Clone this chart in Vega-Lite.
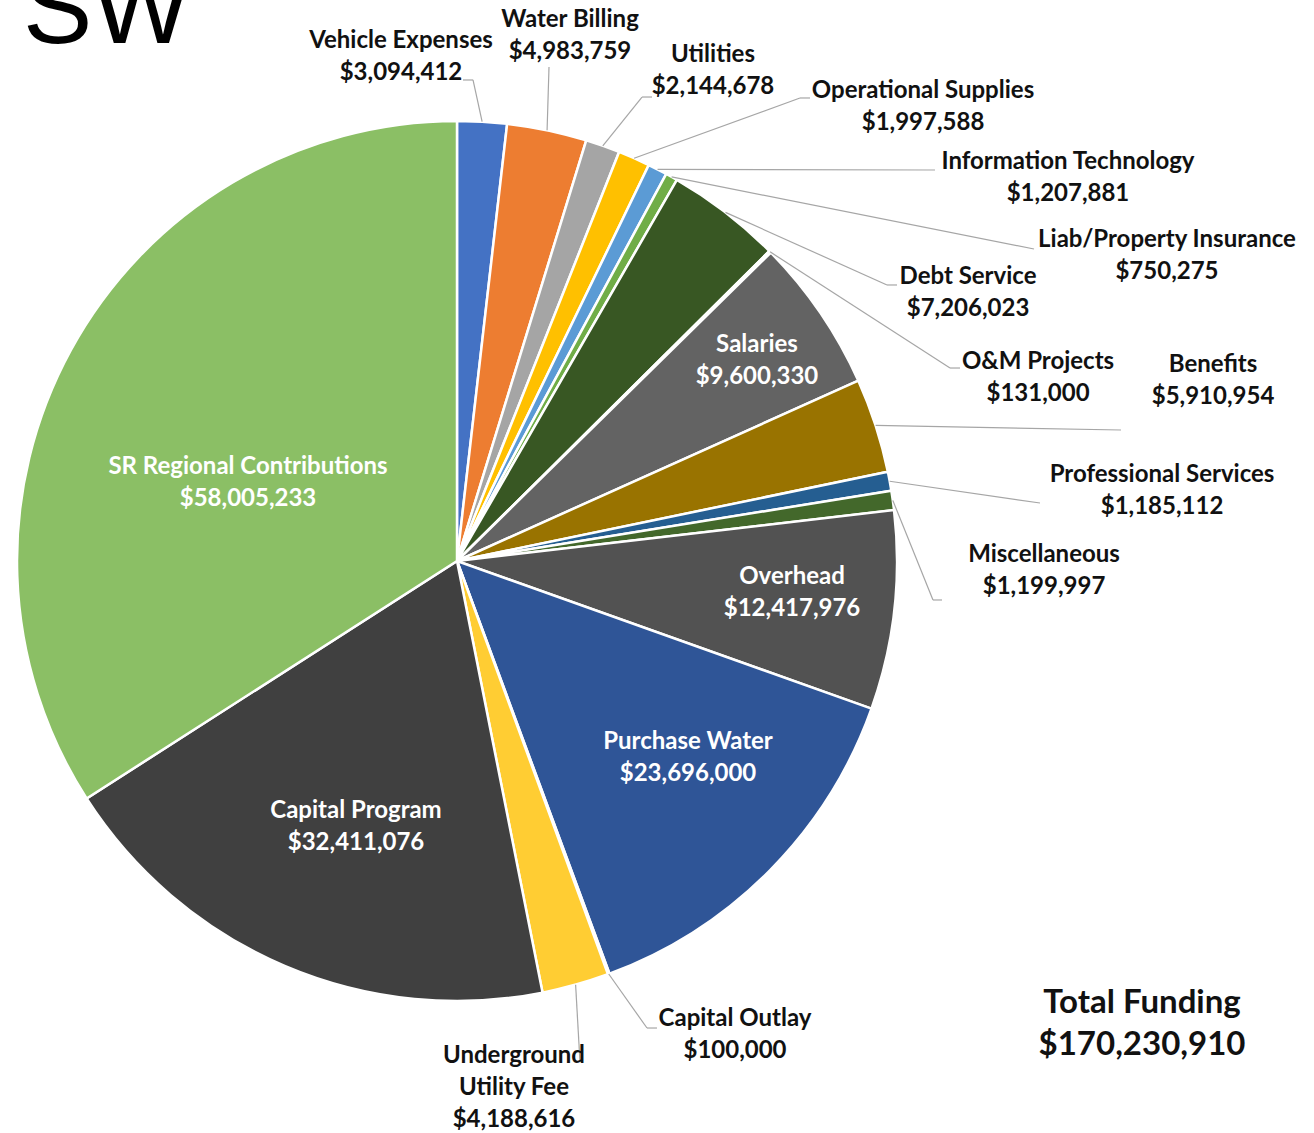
{
  "$schema": "https://vega.github.io/schema/vega-lite/v6.json",
  "width": 914,
  "height": 1122,
  "autosize": {"type": "none"},
  "padding": {"left": 0, "top": 0, "right": 400, "bottom": 11},
  "background": "white",
  "config": {"view": {"stroke": null}},
  "data": {
    "values": [
      {"category": "Vehicle Expenses", "amount": 3094412},
      {"category": "Water Billing", "amount": 4983759},
      {"category": "Utilities", "amount": 2144678},
      {"category": "Operational Supplies", "amount": 1997588},
      {"category": "Information Technology", "amount": 1207881},
      {"category": "Liab/Property Insurance", "amount": 750275},
      {"category": "Debt Service", "amount": 7206023},
      {"category": "O&M Projects", "amount": 131000},
      {"category": "Salaries", "amount": 9600330},
      {"category": "Benefits", "amount": 5910954},
      {"category": "Professional Services", "amount": 1185112},
      {"category": "Miscellaneous", "amount": 1199997},
      {"category": "Overhead", "amount": 12417976},
      {"category": "Purchase Water", "amount": 23696000},
      {"category": "Capital Outlay", "amount": 100000},
      {"category": "Underground Utility Fee", "amount": 4188616},
      {"category": "Capital Program", "amount": 32411076},
      {"category": "SR Regional Contributions", "amount": 58005233}
    ]
  },
  "transform": [
    {"window": [{"op": "row_number", "as": "idx"}]},
    {"joinaggregate": [{"op": "sum", "field": "amount", "as": "total"}]},
    {"window": [{"op": "sum", "field": "amount", "as": "cum"}], "sort": [{"field": "idx", "order": "ascending"}], "frame": [null, 0]},
    {"calculate": "2 * PI * (datum.cum - datum.amount / 2) / datum.total", "as": "mid"},
    {"calculate": "sin(datum.mid)", "as": "sx"},
    {"calculate": "cos(datum.mid)", "as": "sy"}
  ],
  "layer": [
    {
      "mark": {"type": "arc", "outerRadius": 440, "stroke": "white", "strokeWidth": 2.5},
      "encoding": {
        "theta": {"field": "amount", "type": "quantitative", "stack": true},
        "order": {"field": "idx", "type": "quantitative"},
        "color": {
          "field": "category",
          "type": "nominal",
          "legend": null,
          "scale": {
            "domain": ["Vehicle Expenses", "Water Billing", "Utilities", "Operational Supplies", "Information Technology", "Liab/Property Insurance", "Debt Service", "O&M Projects", "Salaries", "Benefits", "Professional Services", "Miscellaneous", "Overhead", "Purchase Water", "Capital Outlay", "Underground Utility Fee", "Capital Program", "SR Regional Contributions"],
            "range": ["#4472C4", "#ED7D31", "#A5A5A5", "#FFC000", "#5B9BD5", "#70AD47", "#385723", "#9E480E", "#636363", "#997300", "#255E91", "#43682B", "#525252", "#2F5597", "#B7B7B7", "#FFCD33", "#404040", "#8BBF65"]
          }
        }
      }
    },
    {
      "transform": [
        {"calculate": "{'Vehicle Expenses':[0.0364,1.0932,0.0136,1.0932],'Water Billing':[0.2091,1.1227,0.2091,1.1227],'Utilities':[0.4205,1.0545,0.4432,1.0545],'Operational Supplies':[0.7795,1.0523,0.8023,1.0523],'Information Technology':[1.0864,0.8886,1.0864,0.8886],'Liab/Property Insurance':[1.3114,0.7091,1.3114,0.7091],'Debt Service':[0.9773,0.6273,1.0,0.6273],'O&M Projects':[1.1205,0.4386,1.1432,0.4386],'Benefits':[1.5091,0.2977,1.5091,0.2977],'Professional Services':[1.325,0.1318,1.325,0.1318],'Miscellaneous':[1.0818,-0.0886,1.1023,-0.0886],'Capital Outlay':[0.4318,-1.0614,0.4545,-1.0614],'Underground Utility Fee':[0.2795,-1.1386,0.2795,-1.1386]}[datum.category]", "as": "lead"},
        {"filter": "isValid(datum.lead)"},
        {"calculate": "datum.lead[0]", "as": "eu"},
        {"calculate": "datum.lead[1]", "as": "ev"}
      ],
      "mark": {"type": "rule", "color": "#A6A6A6", "strokeWidth": 1.2},
      "encoding": {
        "x": {"field": "sx", "type": "quantitative", "scale": {"domain": [-1.038636, 1.038636], "nice": false, "zero": false}, "axis": null},
        "y": {"field": "sy", "type": "quantitative", "scale": {"domain": [-1.275, 1.275], "nice": false, "zero": false}, "axis": null},
        "x2": {"field": "eu"},
        "y2": {"field": "ev"}
      }
    },
    {
      "transform": [
        {"calculate": "{'Vehicle Expenses':[0.0364,1.0932,0.0136,1.0932],'Water Billing':[0.2091,1.1227,0.2091,1.1227],'Utilities':[0.4205,1.0545,0.4432,1.0545],'Operational Supplies':[0.7795,1.0523,0.8023,1.0523],'Information Technology':[1.0864,0.8886,1.0864,0.8886],'Liab/Property Insurance':[1.3114,0.7091,1.3114,0.7091],'Debt Service':[0.9773,0.6273,1.0,0.6273],'O&M Projects':[1.1205,0.4386,1.1432,0.4386],'Benefits':[1.5091,0.2977,1.5091,0.2977],'Professional Services':[1.325,0.1318,1.325,0.1318],'Miscellaneous':[1.0818,-0.0886,1.1023,-0.0886],'Capital Outlay':[0.4318,-1.0614,0.4545,-1.0614],'Underground Utility Fee':[0.2795,-1.1386,0.2795,-1.1386]}[datum.category]", "as": "lead"},
        {"filter": "isValid(datum.lead)"},
        {"calculate": "datum.lead[0]", "as": "eu"},
        {"calculate": "datum.lead[1]", "as": "ev"},
        {"calculate": "datum.lead[2]", "as": "fu"},
        {"calculate": "datum.lead[3]", "as": "fv"}
      ],
      "mark": {"type": "rule", "color": "#A6A6A6", "strokeWidth": 1.2},
      "encoding": {
        "x": {"field": "eu", "type": "quantitative", "scale": {"domain": [-1.038636, 1.038636], "nice": false, "zero": false}, "axis": null},
        "y": {"field": "ev", "type": "quantitative", "scale": {"domain": [-1.275, 1.275], "nice": false, "zero": false}, "axis": null},
        "x2": {"field": "fu"},
        "y2": {"field": "fv"}
      }
    },
    {
      "transform": [
        {"calculate": "{'Vehicle Expenses':[-0.1273,1.1455],'Water Billing':[0.2568,1.1932],'Utilities':[0.5818,1.1136],'Operational Supplies':[1.0591,1.0318],'Information Technology':[1.3886,0.8705],'Liab/Property Insurance':[1.6136,0.6932],'Debt Service':[1.1614,0.6091],'O&M Projects':[1.3205,0.4159],'Salaries':[0.6818,0.4545],'Benefits':[1.7182,0.4091],'Professional Services':[1.6023,0.1591],'Miscellaneous':[1.3341,-0.0227],'Overhead':[0.7614,-0.0727],'Purchase Water':[0.525,-0.4477],'Capital Outlay':[0.6318,-1.0773],'Underground Utility Fee':[0.1295,-1.1614],'Capital Program':[-0.2295,-0.6045],'SR Regional Contributions':[-0.475,0.1773]}[datum.category]", "as": "lp"},
        {"calculate": "datum.lp[0]", "as": "lx"},
        {"calculate": "datum.lp[1]", "as": "ly"},
        {"calculate": "replace(datum.category, 'Underground ', 'Underground\\n') + '\\n' + format(datum.amount, '$,.0f')", "as": "label"},
        {"calculate": "indexof(['Salaries','Overhead','Purchase Water','Capital Program','SR Regional Contributions'], datum.category) >= 0", "as": "inside"}
      ],
      "mark": {"type": "text", "font": "Lato", "fontWeight": "bold", "fontSize": 24, "lineBreak": "\n", "lineHeight": 32, "align": "center", "baseline": "middle", "dy": -16},
      "encoding": {
        "x": {"field": "lx", "type": "quantitative", "scale": {"domain": [-1.038636, 1.038636], "nice": false, "zero": false}, "axis": null},
        "y": {"field": "ly", "type": "quantitative", "scale": {"domain": [-1.275, 1.275], "nice": false, "zero": false}, "axis": null},
        "text": {"field": "label"},
        "color": {"condition": {"test": "datum.inside", "value": "#FFFFFF"}, "value": "#111111"}
      }
    },
    {
      "transform": [
        {"aggregate": [{"op": "sum", "field": "amount", "as": "grand"}]},
        {"calculate": "'Total Funding\\n' + format(datum.grand, '$,.0f')", "as": "label"}
      ],
      "mark": {"type": "text", "font": "Lato", "fontWeight": "bold", "fontSize": 33, "lineBreak": "\n", "lineHeight": 42, "align": "center", "baseline": "middle", "dy": -21, "color": "#111111"},
      "encoding": {
        "x": {"datum": 1.5568, "type": "quantitative", "scale": {"domain": [-1.038636, 1.038636], "nice": false, "zero": false}, "axis": null},
        "y": {"datum": -1.0523, "type": "quantitative", "scale": {"domain": [-1.275, 1.275], "nice": false, "zero": false}, "axis": null},
        "text": {"field": "label"}
      }
    },
    {
      "transform": [
        {"aggregate": [{"op": "count", "as": "n"}]}
      ],
      "mark": {"type": "text", "font": "Liberation Sans", "fontSize": 104, "align": "left", "baseline": "alphabetic", "color": "#000000"},
      "encoding": {
        "x": {"datum": -0.98636, "type": "quantitative", "scale": {"domain": [-1.038636, 1.038636], "nice": false, "zero": false}, "axis": null},
        "y": {"datum": 1.17727, "type": "quantitative", "scale": {"domain": [-1.275, 1.275], "nice": false, "zero": false}, "axis": null},
        "text": {"value": "SW"}
      }
    }
  ]
}
